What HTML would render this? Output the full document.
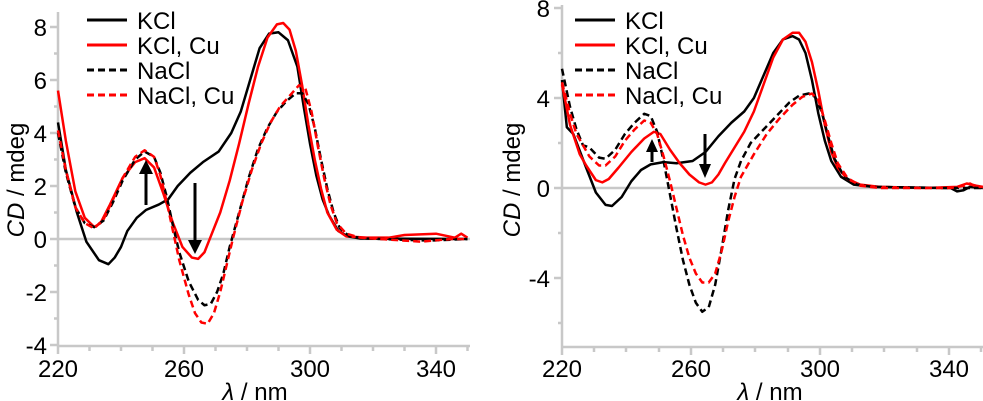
<!DOCTYPE html>
<html><head><meta charset="utf-8"><style>
body{margin:0;background:#fff}
svg{display:block;font-family:"Liberation Sans",Arial,sans-serif}
.l{fill:none;stroke-width:2.5;vector-effect:non-scaling-stroke;stroke-linejoin:round}
.k{stroke:#000}.r{stroke:#f00}.d{stroke-dasharray:7 4}
.t{font-size:24px;fill:#000}
</style></head><body>
<svg width="983" height="401" viewBox="0 0 983 401" xmlns="http://www.w3.org/2000/svg">
<!-- LEFT -->
<g stroke="#c8c8c8" stroke-width="2.5" fill="none">
<line x1="58" y1="12" x2="58" y2="346"/>
<line x1="58" y1="346" x2="470" y2="346"/>
<line x1="58" y1="239" x2="470" y2="239"/>
<path d="M58 27h-8M58 80h-8M58 133h-8M58 186h-8M58 239h-8M58 292h-8M58 345h-8M58 53.5h-4M58 106.5h-4M58 159.5h-4M58 212.5h-4M58 265.5h-4M58 318.5h-4"/>
<path d="M58 346v8M184 346v8M310 346v8M436 346v8M89.5 346v5M121 346v5M152.5 346v5M215.5 346v5M247 346v5M278.5 346v5M341.5 346v5M373 346v5M404.5 346v5M467.5 346v5"/>
</g>
<g class="t" text-anchor="end">
<text x="47" y="36">8</text><text x="47" y="89">6</text><text x="47" y="142">4</text><text x="47" y="195">2</text><text x="47" y="248">0</text><text x="47" y="301">-2</text><text x="47" y="354">-4</text>
</g>
<g class="t" text-anchor="middle">
<text x="58" y="377">220</text><text x="184" y="377">260</text><text x="310" y="377">300</text><text x="436" y="377">340</text>
<text x="255" y="400"><tspan font-style="italic">λ</tspan> / nm</text>
<text transform="translate(24,180) rotate(-90)"><tspan font-style="italic">CD</tspan> / mdeg</text>
</g>
<g transform="translate(58,239) scale(3.15,-26.5) translate(-219,0)">
<polyline class="l k" points="219,4.4 221.5,2.6 225,1 228,-0.1 232,-0.8 235,-0.95 237,-0.7 239,-0.3 241,0.3 244,0.8 247,1.1 251,1.3 254,1.5 257,2.0 261,2.5 265,2.9 270,3.3 274,4.0 277,4.8 280,6.0 283,7.2 286,7.75 289,7.8 292,7.5 295,6.5 297,5.0 299,3.6 301,2.4 303,1.5 305,0.9 308,0.3 311,0.1 315,0.02 349,0"/>
<polyline class="l r" points="219,5.6 221.5,3.7 224.5,1.8 227.5,0.8 230.5,0.45 232.5,0.6 235.5,1.3 239.5,2.3 243.5,2.9 246.5,3.05 249.5,2.7 252.5,1.7 255.5,0.6 258.5,-0.3 261.5,-0.7 263.5,-0.75 265.5,-0.5 267.5,0.1 270.5,1.0 273.5,2.2 276.5,3.6 279.5,5.1 282.5,6.5 285.5,7.6 288.5,8.1 290.5,8.15 292.5,7.9 294.5,7.1 296.5,5.8 298.5,4.3 300.5,3.0 302.5,1.9 304.5,1.0 307.5,0.35 310.5,0.1 317,0.05 324,0.05 329,0.15 339,0.2 345,0.05 347,0.2 349,0.05"/>
<polyline class="l k d" points="219,4.0 221.5,2.5 224.5,1.2 227.5,0.6 230.5,0.45 233.5,0.7 236.5,1.4 239.5,2.2 243.5,3.0 246.5,3.3 249.5,3.1 251.5,2.5 253.5,1.6 255.5,0.5 257.5,-0.5 260.5,-1.6 263.5,-2.3 265.5,-2.5 267.5,-2.45 269.5,-2.0 271.5,-1.3 273.5,-0.3 276.5,1.0 279.5,2.3 282.5,3.4 285.5,4.2 288.5,4.8 291.5,5.2 294.5,5.5 296.5,5.5 298.5,5.1 300.5,4.2 302.5,3.0 304.5,1.9 306.5,1.0 308.5,0.4 311.5,0.1 317,0.02 334,-0.05 339,-0.05 349,0"/>
<polyline class="l r d" points="219,4.1 221.5,2.6 224.5,1.2 227.5,0.6 230.5,0.4 233.5,0.75 236.5,1.5 239.5,2.3 243.5,3.1 246.5,3.35 249.5,3.1 251.5,2.4 253.5,1.4 255.5,0.3 257.5,-0.8 260.5,-2.1 262.5,-2.8 264.5,-3.15 266.5,-3.2 268.5,-2.8 270.5,-2.0 272.5,-1.0 274.5,0 277.5,1.4 280.5,2.6 283.5,3.6 286.5,4.4 289.5,5.0 292.5,5.4 295.5,5.8 297.5,5.7 299.5,4.8 301.5,3.5 303.5,2.3 305.5,1.3 307.5,0.6 310.5,0.2 315,0.05 334,-0.1 344,0 349,0"/>
</g>
<path d="M146 205V172" stroke="#000" stroke-width="3"/><path d="M139 174L146 160L153 174Z"/>
<path d="M195 183V242" stroke="#000" stroke-width="3"/><path d="M188 240L195 254L202 240Z"/>
<g stroke-width="3">
<line x1="87" y1="20" x2="127" y2="20" stroke="#000"/>
<line x1="87" y1="45" x2="127" y2="45" stroke="#f00"/>
<line x1="87" y1="70" x2="127" y2="70" stroke="#000" stroke-dasharray="7 4"/>
<line x1="87" y1="95" x2="127" y2="95" stroke="#f00" stroke-dasharray="7 4"/>
</g>
<g class="t"><text x="137" y="29">KCl</text><text x="137" y="54">KCl, Cu</text><text x="137" y="79">NaCl</text><text x="137" y="104">NaCl, Cu</text></g>

<!-- RIGHT -->
<g stroke="#c8c8c8" stroke-width="2.5" fill="none">
<line x1="562" y1="5" x2="562" y2="347"/>
<line x1="562" y1="347" x2="983" y2="347"/>
<line x1="562" y1="188" x2="983" y2="188"/>
<path d="M562 8h-8M562 98h-8M562 188h-8M562 278h-8M562 53h-4M562 143h-4M562 233h-4M562 323h-4"/>
<path d="M562 347v8M691 347v8M820 347v8M949 347v8M594 347v5M626 347v5M659 347v5M723 347v5M755 347v5M788 347v5M852 347v5M884 347v5M917 347v5M981 347v5"/>
</g>
<g class="t" text-anchor="end">
<text x="550" y="17">8</text><text x="550" y="107">4</text><text x="550" y="197">0</text><text x="550" y="287">-4</text>
</g>
<g class="t" text-anchor="middle">
<text x="562" y="377">220</text><text x="691" y="377">260</text><text x="820" y="377">300</text><text x="949" y="377">340</text>
<text x="770" y="400"><tspan font-style="italic">λ</tspan> / nm</text>
<text transform="translate(520,180) rotate(-90)"><tspan font-style="italic">CD</tspan> / mdeg</text>
</g>
<g transform="translate(562,188) scale(3.225,-22.5) translate(-215.5,0)">
<polyline class="l k" points="215.5,4.8 217,2.7 219,2.4 223,0.9 226,-0.2 229,-0.75 231,-0.8 234,-0.4 237,0.3 240,0.8 243,1.05 247,1.15 251,1.1 256,1.2 260,1.6 264,2.3 268,2.9 272,3.4 275,4.0 278,5.0 281,6.0 284,6.6 287,6.75 289,6.6 291,6.0 293,4.8 295,3.3 297,2.1 299,1.2 302,0.5 306,0.15 312,0.05 336,0 338,-0.15 340,-0.1 342,0.05 346,0"/>
<polyline class="l r" points="215.5,4.6 218,2.8 221,1.5 223,1.0 226,0.35 228,0.25 230,0.4 233,0.9 237,1.6 241,2.2 244,2.5 246,2.4 249,1.7 252,1.1 255,0.6 258,0.25 260,0.15 262,0.25 264,0.6 266,1.1 269,1.8 272,2.5 275,3.4 278,4.6 281,5.8 284,6.6 287,6.9 289,6.9 291,6.5 293,5.6 295,4.3 297,2.8 299,1.6 301,0.9 304,0.4 308,0.15 314,0.05 328,0 338,0.05 341,0.2 344,0.1 346,0.05"/>
<polyline class="l k d" points="215.5,5.3 218,3.6 220,2.6 222,1.9 224,1.8 227,1.35 229,1.3 232,1.7 235,2.4 238,2.9 241,3.3 243,3.2 245,2.5 247,1.2 249,-0.3 251,-1.8 253,-3.2 255,-4.3 257,-5.1 259,-5.5 261,-5.3 263,-4.3 265,-2.7 267,-1.0 269,0.4 271,1.2 274,2.0 278,2.6 282,3.2 286,3.8 289,4.1 292,4.2 294,4.05 296,3.4 298,2.3 300,1.3 303,0.5 307,0.15 312,0.05 333,0 346,0"/>
<polyline class="l r d" points="215.5,4.7 218,3.3 220,2.4 222,1.9 224,1.4 227,1.0 229,1.0 232,1.4 235,2.1 238,2.6 241,3.0 243,2.9 245,2.4 247,1.4 249,0.3 251,-0.9 253,-2.1 255,-3.1 257,-3.8 259,-4.2 261,-4.2 263,-3.8 265,-2.8 267,-1.5 269,-0.4 271,0.5 275,1.5 279,2.4 283,3.1 287,3.7 290,4.05 293,4.2 295,3.9 297,3.0 299,2.0 301,1.1 304,0.45 308,0.1 314,0 336,0 340,0.1 342,0.2 344,0.05 346,0.05"/>
</g>
<path d="M652 162V150" stroke="#000" stroke-width="3"/><path d="M646 152L652 139L658 152Z"/>
<path d="M705 134V166" stroke="#000" stroke-width="3"/><path d="M699 164L705 178L711 164Z"/>
<g stroke-width="3">
<line x1="575" y1="20" x2="615" y2="20" stroke="#000"/>
<line x1="575" y1="45" x2="615" y2="45" stroke="#f00"/>
<line x1="575" y1="70" x2="615" y2="70" stroke="#000" stroke-dasharray="7 4"/>
<line x1="575" y1="95" x2="615" y2="95" stroke="#f00" stroke-dasharray="7 4"/>
</g>
<g class="t"><text x="625" y="29">KCl</text><text x="625" y="54">KCl, Cu</text><text x="625" y="79">NaCl</text><text x="625" y="104">NaCl, Cu</text></g>
</svg>
</body></html>
